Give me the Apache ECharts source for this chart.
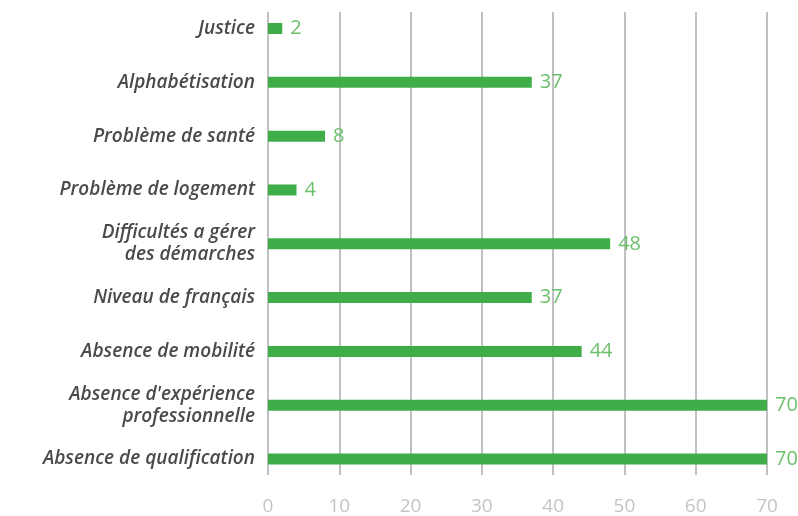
<!DOCTYPE html>
<html>
<head>
<meta charset="utf-8">
<script src="https://cdn.jsdelivr.net/npm/echarts@6/dist/echarts.min.js"></script>
<style>html,body{margin:0;padding:0;background:#fff}#c{width:798px;height:516px}</style>
</head>
<body>
<div id="c"></div>
<script>
const categories = [
  "Absence de qualification",
  "Absence d'expérience\nprofessionnelle",
  "Absence de mobilité",
  "Niveau de français",
  "Difficultés a gérer\ndes démarches",
  "Problème de logement",
  "Problème de santé",
  "Alphabétisation",
  "Justice"
];
const values = [70, 70, 44, 37, 48, 4, 8, 37, 2];
const axisMin = 0, axisMax = 70, axisStep = 10;

const chart = echarts.init(document.getElementById('c'), null, {renderer: 'canvas'});
chart.setOption({
  animation: false,
  backgroundColor: '#ffffff',
  grid: [
    {left: 268, right: 31, top: 1.6, bottom: 30},
    {left: 268, right: 31, top: 12, bottom: 39}
  ],
  xAxis: [
    {gridIndex: 0, type: 'value', min: axisMin, max: axisMax, interval: axisStep,
     show: false},
    {gridIndex: 1, type: 'value', min: axisMin, max: axisMax, interval: axisStep,
     axisLine: {show: false}, axisTick: {show: false},
     splitLine: {show: true, lineStyle: {color: '#c0c0c4', width: 2}},
     axisLabel: {color: '#c4c4c4', fontSize: 19, fontFamily: 'Open Sans', margin: 22}}
  ],
  yAxis: [
    {gridIndex: 0, type: 'category', data: categories,
     axisLine: {show: false}, axisTick: {show: false}, splitLine: {show: false},
     axisLabel: {color: '#4a4a4a', fontSize: 19, fontStyle: 'italic', fontWeight: 600,
                 fontFamily: 'Open Sans', margin: 13, lineHeight: 22, align: 'right'}},
    {gridIndex: 1, type: 'value', show: false}
  ],
  series: [{
    type: 'bar', xAxisIndex: 0, yAxisIndex: 0, data: values,
    barWidth: 11,
    itemStyle: {color: '#3fae49'},
    label: {show: true, position: 'right', distance: 8, color: '#6cc06c',
            fontSize: 20, fontFamily: 'Open Sans'}
  }]
});
</script>
</body>
</html>
